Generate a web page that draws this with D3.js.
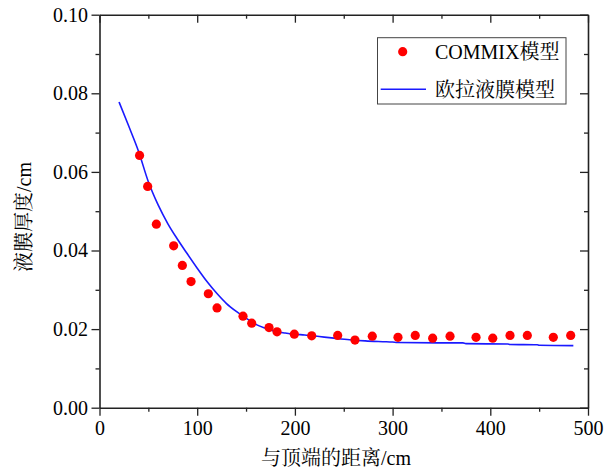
<!DOCTYPE html>
<html><head><meta charset="utf-8">
<script src="https://cdn.jsdelivr.net/npm/d3@7"></script>
<style>
body{margin:0;background:#fff;}
svg{display:block;}
</style></head>
<body>
<script>
// COMMIX model points
const commixX = [41,49.3,58.2,75.9,84.8,93.7,111.4,120.3,146.9,155.8,173.5,181.7,199.4,217.2,243.8,261.5,279.2,305.5,323.2,341,358.8,385.4,402.5,420.2,437.9,464.5,482.3];
const commixY = [0.0642,0.0563,0.0467,0.0412,0.0362,0.0321,0.0290,0.0254,0.0233,0.0215,0.0204,0.0193,0.0187,0.0183,0.0184,0.0172,0.0182,0.0179,0.0184,0.0177,0.0182,0.0179,0.0177,0.0184,0.0184,0.0179,0.0184];
// Euler liquid film model line
const eulerX = [20,30,40,50,60,70,80,90,100,110,120,130,140,150,160,170,180,190,200,210,225,240,256,272,290,300,305,360,372,375,418,420,448,450,485];
const eulerY = [0.0778,0.0716,0.0652,0.0575,0.0516,0.0468,0.0428,0.0391,0.0355,0.0321,0.0291,0.0265,0.0245,0.0228,0.0212,0.0202,0.0194,0.0190,0.0187,0.0185,0.0181,0.0177,0.0173,0.0170,0.0168,0.0167,0.0166,0.0165,0.0165,0.0163,0.0162,0.0161,0.0160,0.0159,0.0158];
const xTicks = [0,100,200,300,400,500];
const yTicks = [0.00,0.02,0.04,0.06,0.08,0.10];
const xMinor = [50,150,250,350,450];
const yMinor = [0.01,0.03,0.05,0.07,0.09];
const seriesNames = ["COMMIX模型","欧拉液膜模型"];
const xTitle = "与顶端的距离/cm";
const yTitle = "液膜厚度/cm";

const W = 614, H = 470;
const L = 99.5, R = 588, T = 14.7, B = 407.7;
const font = "'Liberation Serif','Times New Roman','Noto Serif CJK SC','Noto Sans CJK SC',serif";

const svg = d3.select("body").append("svg").attr("width", W).attr("height", H)
  .style("font-family", font);

const x = d3.scaleLinear().domain([0,500]).range([L,R]);
const y = d3.scaleLinear().domain([0,0.10]).range([B,T]);

const axisColor = "#222";
function styleAxis(g){
  g.select(".domain").attr("stroke", axisColor).attr("stroke-width",1.6);
  g.selectAll(".tick line").attr("stroke", axisColor).attr("stroke-width",1.3);
  g.selectAll(".tick text").attr("fill","#000").style("font-size","20px").style("font-family",font);
}

// bottom
svg.append("g").attr("transform",`translate(0,${B})`)
  .call(d3.axisBottom(x).tickValues(xTicks).tickFormat(d3.format("d")).tickSize(8).tickSizeOuter(0).tickPadding(5))
  .call(styleAxis);
svg.append("g").attr("transform",`translate(0,${B})`)
  .call(d3.axisBottom(x).tickValues(xMinor).tickFormat("").tickSize(4).tickSizeOuter(0))
  .call(styleAxis).call(g=>g.select(".domain").remove());
// left
svg.append("g").attr("transform",`translate(${L},0)`)
  .call(d3.axisLeft(y).tickValues(yTicks).tickFormat(d3.format(".2f")).tickSize(8).tickSizeOuter(0).tickPadding(3.5))
  .call(styleAxis);
svg.append("g").attr("transform",`translate(${L},0)`)
  .call(d3.axisLeft(y).tickValues(yMinor).tickFormat("").tickSize(4).tickSizeOuter(0))
  .call(styleAxis).call(g=>g.select(".domain").remove());
// top (inward ticks)
svg.append("g").attr("transform",`translate(0,${T})`)
  .call(d3.axisBottom(x).tickValues(xTicks).tickFormat("").tickSize(8).tickSizeOuter(0))
  .call(styleAxis);
svg.append("g").attr("transform",`translate(0,${T})`)
  .call(d3.axisBottom(x).tickValues(xMinor).tickFormat("").tickSize(4).tickSizeOuter(0))
  .call(styleAxis).call(g=>g.select(".domain").remove());
// right (inward ticks)
svg.append("g").attr("transform",`translate(${R},0)`)
  .call(d3.axisLeft(y).tickValues(yTicks).tickFormat("").tickSize(8).tickSizeOuter(0))
  .call(styleAxis);
svg.append("g").attr("transform",`translate(${R},0)`)
  .call(d3.axisLeft(y).tickValues(yMinor).tickFormat("").tickSize(4).tickSizeOuter(0))
  .call(styleAxis).call(g=>g.select(".domain").remove());

// Line
const lineData = eulerX.map((d,i)=>[d, eulerY[i]]);
svg.append("path").datum(lineData)
  .attr("fill","none").attr("stroke","#1a1aff").attr("stroke-width",1.6)
  .attr("d", d3.line().x(d=>x(d[0])).y(d=>y(d[1])).curve(d3.curveMonotoneX));

// Points
const pts = commixX.map((d,i)=>[d, commixY[i]]);
svg.append("g").selectAll("circle").data(pts).join("circle")
  .attr("cx", d=>x(d[0])).attr("cy", d=>y(d[1])).attr("r",4.6).attr("fill","#ff0000");

// Legend
const lg = svg.append("g");
lg.append("rect").attr("x",377.5).attr("y",37.7).attr("width",188.5).attr("height",66.3)
  .attr("fill","#fff").attr("stroke","#444").attr("stroke-width",1);
lg.append("circle").attr("cx",402.7).attr("cy",51.7).attr("r",4.6).attr("fill","#ff0000");
lg.append("line").attr("x1",380.7).attr("x2",426).attr("y1",89.3).attr("y2",89.3)
  .attr("stroke","#1a1aff").attr("stroke-width",1.6);
lg.append("text").attr("x",435).attr("y",59).text(seriesNames[0]).style("font-size","20px").attr("fill","#000");
lg.append("text").attr("x",435).attr("y",97).text(seriesNames[1]).style("font-size","20px").attr("fill","#000");

// Axis titles
svg.append("text").attr("x",336).attr("y",465).attr("text-anchor","middle")
  .style("font-size","20px").attr("fill","#000").text(xTitle);
svg.append("text").attr("transform","translate(31,217) rotate(-90)").attr("text-anchor","middle")
  .style("font-size","20px").attr("fill","#000").text(yTitle);
</script>
</body></html>
